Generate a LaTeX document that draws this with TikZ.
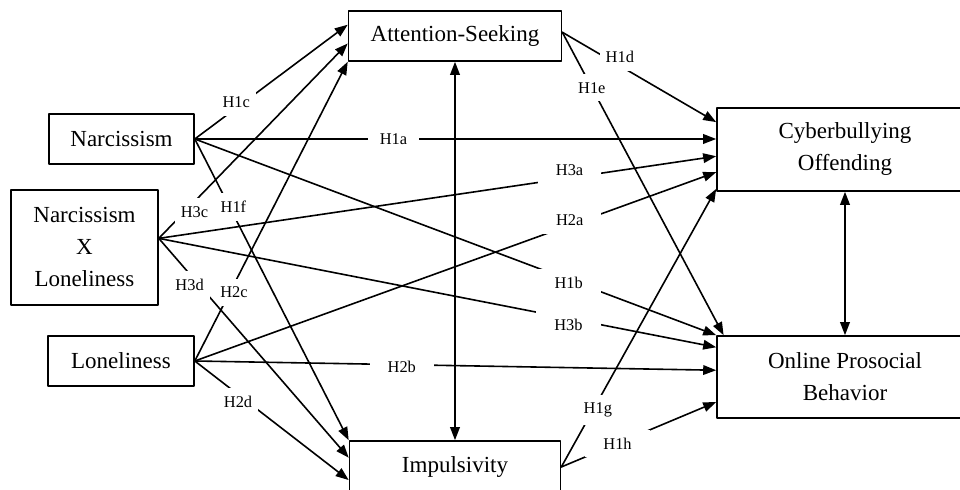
\documentclass[tikz,border=0pt]{standalone}
\usepackage{fontspec}
\setmainfont{Liberation Serif}
\usetikzlibrary{arrows.meta}

\begin{document}
\begin{tikzpicture}[line cap=round,line join=round,>={Triangle[length=6.5pt,width=4.8pt]},x=0.5pt,y=-0.5pt,
		box/.style={draw,line width=0.8pt,inner sep=0pt,align=center,font=\fontsize{11.5}{16}\selectfont},
		link/.style={->,line width=0.8pt},
		hyp/.style={fill=white,inner xsep=3pt,inner ysep=4pt,font=\fontsize{8.2}{9}\selectfont},
		wide/.style={hyp,inner xsep=9pt}]
		\useasboundingbox (0,0) rectangle (960,490);

		% Konstrukte
		\node[box,minimum width=106.5pt,minimum height=25pt] (att) at (455,36) {Attention-Seeking};
		\node[box,minimum width=72.5pt,minimum height=25pt] (nar) at (121.5,139) {Narcissism};
		\node[box,minimum width=73.5pt,minimum height=57.5pt] (nxl) at (84.5,247.5) {Narcissism\\X\\Loneliness};
		\node[box,minimum width=73pt,minimum height=25pt] (lon) at (121,361) {Loneliness};
		\node[box,minimum width=105.5pt,minimum height=26pt] (imp) at (455,467) {Impulsivity};
		\node[box,minimum width=128pt,minimum height=41.5pt] (cyb) at (845,149.5) {Cyberbullying\\Offending};
		\node[box,minimum width=128pt,minimum height=41pt] (ops) at (845,377) {Online Prosocial\\Behavior};

		% Narcissism
		\draw[link] (nar.east) -- node[hyp,inner xsep=6pt,pos=0.381] {H1a} (nar.east -| cyb.west);
		\draw[link] (nar.east) -- node[wide,pos=0.717,yshift=-1.4pt] {H1b} (ops.north west);
		\draw[link] (nar.east) -- node[hyp,pos=0.271,yshift=3pt] {H1c} (att.174);
		\draw[link] (nar.east) -- node[hyp,pos=0.225,xshift=2pt] {H1f} (imp.north west);

		% Loneliness
		\draw[link] (lon.east) -- node[wide,pos=0.719,yshift=2.6pt] {H2a} (cyb.190);
		\draw[link] (lon.east) -- node[wide,pos=0.397,yshift=-1pt] {H2b} (ops.177);
		\draw[link] (lon.east) -- node[hyp,pos=0.23,xshift=2pt] {H2c} (att.south west);
		\draw[link] (lon.east) -- node[hyp,pos=0.3,xshift=-1.45pt,yshift=-2.65pt] {H2d} (imp.187);

		% Narcissism X Loneliness
		\draw[link] (nxl.7) -- node[wide,pos=0.737,yshift=3.9pt] {H3a} (cyb.183);
		\draw[link] (nxl.7) -- node[wide,pos=0.735,yshift=-3.25pt] {H3b} (ops.167);
		\draw[link] (nxl.7) -- node[hyp,pos=0.16,xshift=2.7pt,yshift=-2.35pt] {H3c} (att.184);
		\draw[link] (nxl.7) -- node[hyp,pos=0.19,xshift=-2.65pt,yshift=-2.4pt] {H3d} (imp.175);

		% Mediatoren
		\draw[link] (att.2) -- node[hyp,pos=0.374,yshift=4.5pt] {H1d} (cyb.168);
		\draw[link] (att.2) -- node[hyp,pos=0.183] {H1e} (ops.161);
		\draw[link] (imp.east) -- node[hyp,pos=0.205,xshift=2.4pt] {H1g} (cyb.197);
		\draw[link] (imp.east) -- node[wide,pos=0.363] {H1h} (ops.191);

		% Kovarianzen
		\draw[link,<->] (att.south) -- (imp.north);
		\draw[link,<->] (cyb.south) -- (ops.north);
	\end{tikzpicture}
\end{document}
